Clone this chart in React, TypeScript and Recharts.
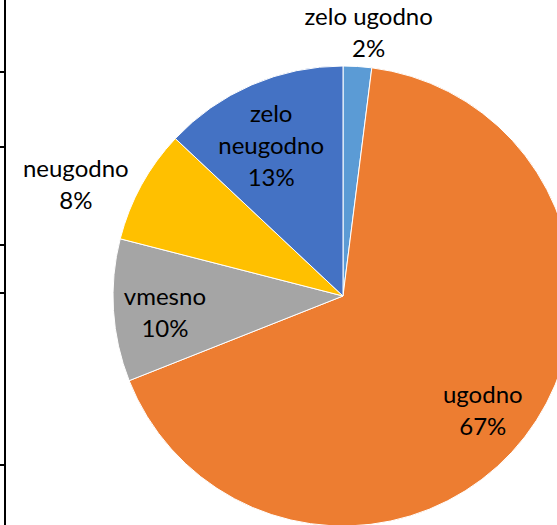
import React from 'react';
import { PieChart, Pie, Cell } from 'recharts';

const categories = ['zelo ugodno', 'ugodno', 'vmesno', 'neugodno', 'zelo neugodno'];
const values = [2, 67, 10, 8, 13];
const labelLines = [['zelo ugodno', '2%'], ['ugodno', '67%'], ['vmesno', '10%'], ['neugodno', '8%'], ['zelo', 'neugodno', '13%']];

const colors = ['#5B9BD5', '#ED7D31', '#A5A5A5', '#FFC000', '#4472C4'];
// label placement (polar: radius, angle delta from slice mid)
const labelPlace = [
  { r: 263, d: -2 },
  { r: 182, d: -2 },
  { r: 179, d: 2.2 },
  { r: 289, d: 6.4 },
  { r: 165, d: 2.4 },
];

const data = categories.map((name, i) => ({ name, value: values[i] }));
const RAD = Math.PI / 180;
const FONT = 'Lato, "Noto Sans", sans-serif';

const renderLabel = (props: any) => {
  const { cx, cy, midAngle, index } = props;
  const p = labelPlace[index];
  const a = (midAngle + p.d) * RAD;
  const x = cx + p.r * Math.cos(a);
  const y = cy - p.r * Math.sin(a) - 3;
  const lines = labelLines[index];
  const lh = 32;
  const y0 = y - ((lines.length - 1) * lh) / 2;
  return (
    <text x={x} y={y0} textAnchor="middle" dominantBaseline="central" fontFamily={FONT} fontSize={24} fill="#000">
      {lines.map((l, k) => (
        <tspan key={k} x={x} y={y0 + k * lh}>{l}</tspan>
      ))}
    </text>
  );
};

const ticks = [72, 147, 245, 293, 465];

export default function App() {
  return (
    <div style={{ position: 'fixed', left: 0, top: 0, width: 557, height: 525, background: '#fff', overflow: 'hidden' }}>
      <div style={{ position: 'absolute', left: 4, top: 0, width: 2, height: 525, background: '#000' }} />
      {ticks.map((t) => (
        <div key={t} style={{ position: 'absolute', left: 0, top: t - 1, width: 5, height: 2, background: '#000' }} />
      ))}
      <div style={{ position: 'absolute', left: 0, top: 0 }}>
        <PieChart width={557} height={525} margin={{ top: 0, right: 0, bottom: 0, left: 0 }}>
          <Pie
            data={data}
            dataKey="value"
            nameKey="name"
            cx={343}
            cy={296}
            outerRadius={230}
            startAngle={90}
            endAngle={-270}
            stroke="#fff"
            strokeWidth={1}
            label={renderLabel}
            labelLine={false}
            isAnimationActive={false}
          >
            {data.map((d, i) => (
              <Cell key={d.name} fill={colors[i]} />
            ))}
          </Pie>
        </PieChart>
      </div>
    </div>
  );
}
